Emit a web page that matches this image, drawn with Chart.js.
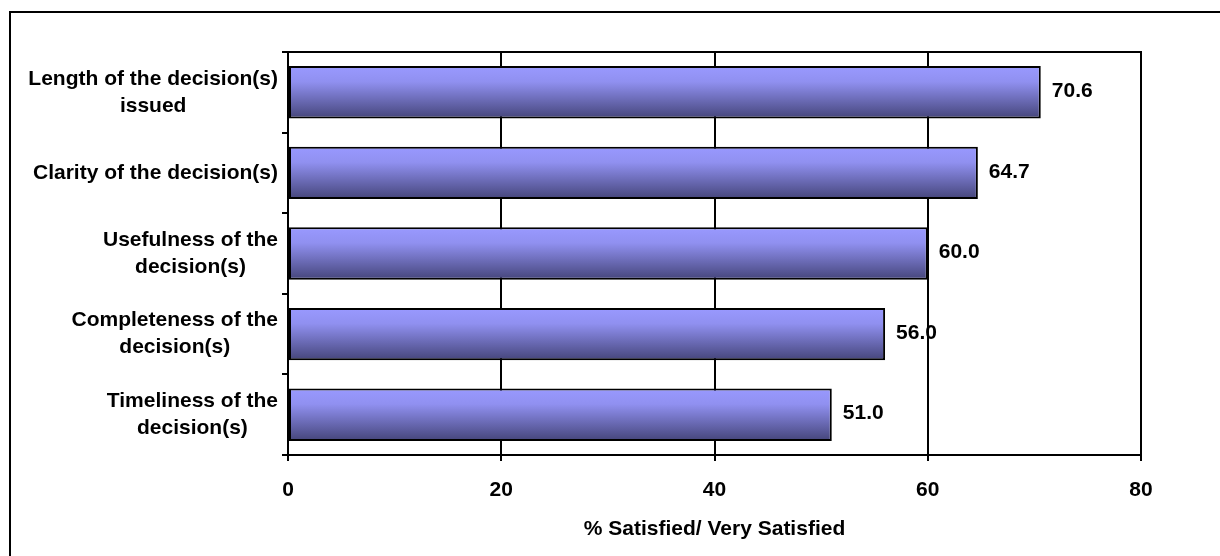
<!DOCTYPE html>
<html>
<head>
<meta charset="utf-8">
<script src="https://cdn.jsdelivr.net/npm/chart.js@4"></script>
<style>
  html, body { margin: 0; padding: 0; background: #fff; }
  #wrap { width: 1220px; height: 556px; }
</style>
</head>
<body>
<div id="wrap"><canvas id="grafico"></canvas></div>
<script>
const categorias = [
    ['Length of the decision(s)', 'issued'],
    ['Clarity of the decision(s)'],
    ['Usefulness of the', 'decision(s)'],
    ['Completeness of the', 'decision(s)'],
    ['Timeliness of the', 'decision(s)']
];
const valores = [70.6, 64.7, 60.0, 56.0, 51.0];
const xTicks = [0, 20, 40, 60, 80];
const tituloX = '% Satisfied/ Very Satisfied';

const FONTE = '"Liberation Sans", Arial, sans-serif';
const TAM = 21;
const BAR_PCT = 0.65;

// degradê vertical de cada barra (claro em cima, escuro embaixo)
function degrade(c) {
    const chart = c.chart;
    const y = chart.scales.y;
    if (!chart.chartArea || !y || c.dataIndex === undefined) return '#9090f0';
    const meio = y.getPixelForValue(c.dataIndex);
    const alt = (y.height / categorias.length) * BAR_PCT;
    const g = chart.ctx.createLinearGradient(0, meio - alt / 2, 0, meio + alt / 2);
    g.addColorStop(0, '#9999ff');
    g.addColorStop(0.3, '#9090f0');
    g.addColorStop(1, '#45457a');
    return g;
}

// moldura externa, linha de topo da área, rótulos e valores
const moldura = {
    id: 'moldura',
    afterDraw(chart) {
        const ctx = chart.ctx;
        const a = chart.chartArea;
        ctx.save();
        ctx.strokeStyle = '#000';
        ctx.lineWidth = 2;
        ctx.strokeRect(10, 12, 1400, 700);
        ctx.beginPath();
        ctx.moveTo(a.left, a.top);
        ctx.lineTo(a.right + 1, a.top);
        ctx.stroke();

        // rótulos das categorias (bloco centralizado, alinhado à direita)
        ctx.font = 'bold ' + TAM + 'px ' + FONTE;
        ctx.fillStyle = '#000';
        ctx.textAlign = 'center';
        ctx.textBaseline = 'middle';
        const yScale = chart.scales.y;
        const lh = 27;
        categorias.forEach((linhas, i) => {
            const w = Math.max(...linhas.map(t => ctx.measureText(t).width));
            const cx = a.left - 10 - w / 2;
            const cy = yScale.getPixelForValue(i);
            linhas.forEach((t, k) => {
                ctx.fillText(t, cx, cy + (k - (linhas.length - 1) / 2) * lh);
            });
        });

        // valores ao lado das barras
        ctx.textAlign = 'left';
        const meta = chart.getDatasetMeta(0);
        meta.data.forEach((el, i) => {
            ctx.fillText(valores[i].toFixed(1), el.x + 11, el.y - 1);
        });
        ctx.restore();
    }
};

const grafico = new Chart(document.getElementById('grafico'), {
    type: 'bar',
    data: {
        labels: categorias,
        datasets: [{
            data: valores,
            backgroundColor: degrade,
            borderColor: '#000',
            borderWidth: 2,
            borderSkipped: false,
            barPercentage: BAR_PCT,
            categoryPercentage: 1
        }]
    },
    options: {
        indexAxis: 'y',
        responsive: true,
        maintainAspectRatio: false,
        animation: false,
        layout: { padding: { top: 52, right: 79, left: 0, bottom: 0 } },
        plugins: {
            legend: { display: false },
            tooltip: { enabled: false }
        },
        scales: {
            x: {
                min: 0,
                max: 80,
                afterFit(scale) { scale.height = 101; },
                afterBuildTicks(scale) { scale.ticks = xTicks.map(v => ({ value: v })); },
                grid: { color: '#000', lineWidth: 2, tickLength: 6, drawOnChartArea: true },
                border: { color: '#000', width: 2 },
                ticks: {
                    color: '#000',
                    padding: 17,
                    maxRotation: 0,
                    font: { family: FONTE, size: TAM, weight: 'bold' }
                },
                title: {
                    display: true,
                    text: tituloX,
                    color: '#000',
                    padding: { top: 14, bottom: 14 },
                    font: { family: FONTE, size: TAM, weight: 'bold' }
                }
            },
            y: {
                afterFit(scale) { scale.width = 288; },
                grid: { color: '#000', lineWidth: 2, tickLength: 6, drawOnChartArea: false, offset: true },
                border: { color: '#000', width: 2 },
                ticks: { display: false }
            }
        }
    },
    plugins: [moldura]
});
</script>
</body>
</html>
